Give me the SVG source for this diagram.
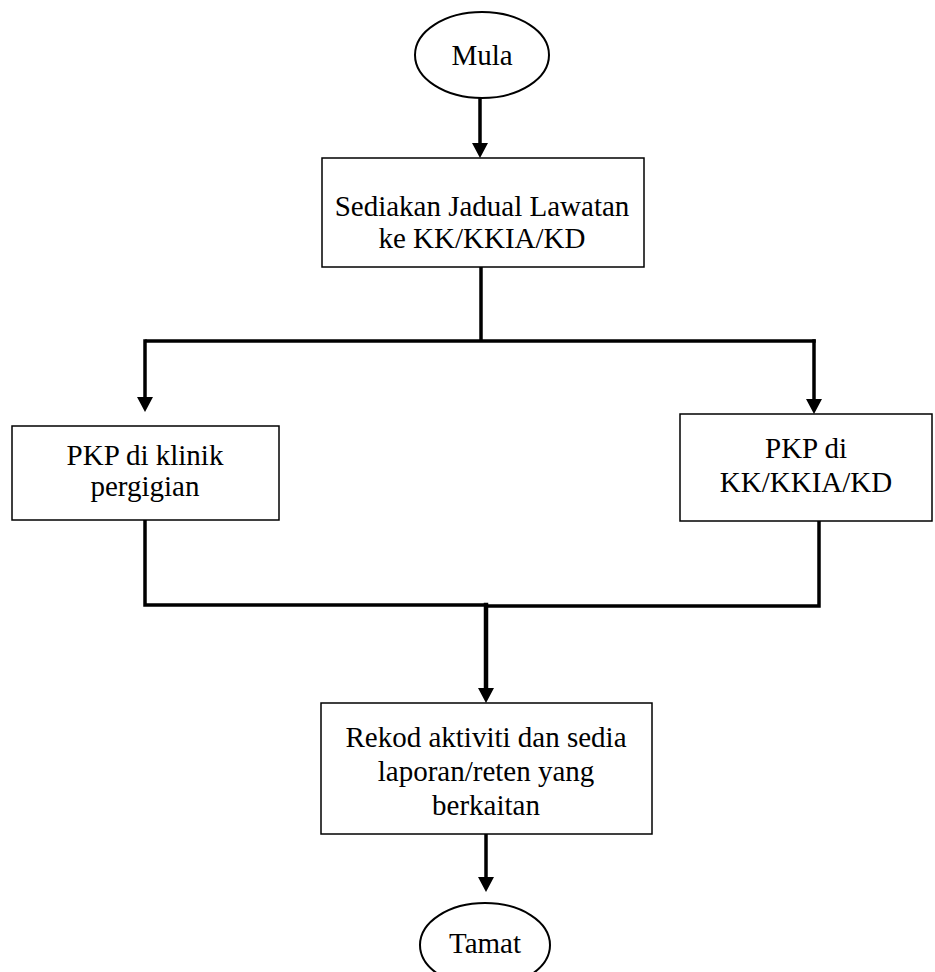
<svg xmlns="http://www.w3.org/2000/svg" width="935" height="972" viewBox="0 0 935 972">
<style>
.box{fill:#fff;stroke:#000;stroke-width:1.5}
.term{fill:#fff;stroke:#000;stroke-width:2}
.t{font-size:29px;fill:#000;text-anchor:middle}
.c{fill:none;stroke:#000;stroke-width:3.5;stroke-linecap:square;stroke-linejoin:miter}
.h{fill:#000;stroke:none}
</style>
<g id="connectors">
<path class="c" d="M480,99 L480,143"/>
<polygon class="h" points="472,143 488,143 480,158"/>
<path class="c" d="M481,268 L481,340"/>
<path class="c" d="M147,341 L814,341"/>
<path class="c" d="M145,341 L145,397"/>
<polygon class="h" points="137,397 153,397 145,412"/>
<path class="c" d="M814,341 L814,399"/>
<polygon class="h" points="806,399 822,399 814,414"/>
<path class="c" d="M145,521 L145,605 L486,605"/>
<path class="c" d="M819,522 L819,606 L486,606"/>
<path class="c" d="M486,605 L486,688" style="stroke-width:4.5"/>
<polygon class="h" points="478,688 494,688 486,703"/>
<path class="c" d="M486,835 L486,877"/>
<polygon class="h" points="478,877 494,877 486,892"/>
</g>
<g id="mula">
<ellipse class="term" cx="482" cy="55" rx="67" ry="43"/>
<text class="t" font-family="Liberation Serif, Times New Roman, serif" x="482" y="65">Mula</text>
</g>
<g id="jadual">
<rect class="box" x="322" y="158" width="322" height="109"/>
<text class="t" font-family="Liberation Serif, Times New Roman, serif" x="482" y="216">Sediakan Jadual Lawatan</text>
<text class="t" font-family="Liberation Serif, Times New Roman, serif" x="482" y="248">ke KK/KKIA/KD</text>
</g>
<g id="klinik">
<rect class="box" x="12" y="426" width="267" height="94"/>
<text class="t" font-family="Liberation Serif, Times New Roman, serif" x="145" y="465">PKP di klinik</text>
<text class="t" font-family="Liberation Serif, Times New Roman, serif" x="145" y="496">pergigian</text>
</g>
<g id="kk">
<rect class="box" x="680" y="414" width="252" height="107"/>
<text class="t" font-family="Liberation Serif, Times New Roman, serif" x="806" y="458">PKP di</text>
<text class="t" font-family="Liberation Serif, Times New Roman, serif" x="806" y="492">KK/KKIA/KD</text>
</g>
<g id="rekod">
<rect class="box" x="321" y="703" width="331" height="131"/>
<text class="t" font-family="Liberation Serif, Times New Roman, serif" x="486" y="747">Rekod aktiviti dan sedia</text>
<text class="t" font-family="Liberation Serif, Times New Roman, serif" x="486" y="781">laporan/reten yang</text>
<text class="t" font-family="Liberation Serif, Times New Roman, serif" x="486" y="815">berkaitan</text>
</g>
<g id="tamat">
<ellipse class="term" cx="485" cy="945" rx="65" ry="42"/>
<text class="t" font-family="Liberation Serif, Times New Roman, serif" x="485" y="953">Tamat</text>
</g>
</svg>
